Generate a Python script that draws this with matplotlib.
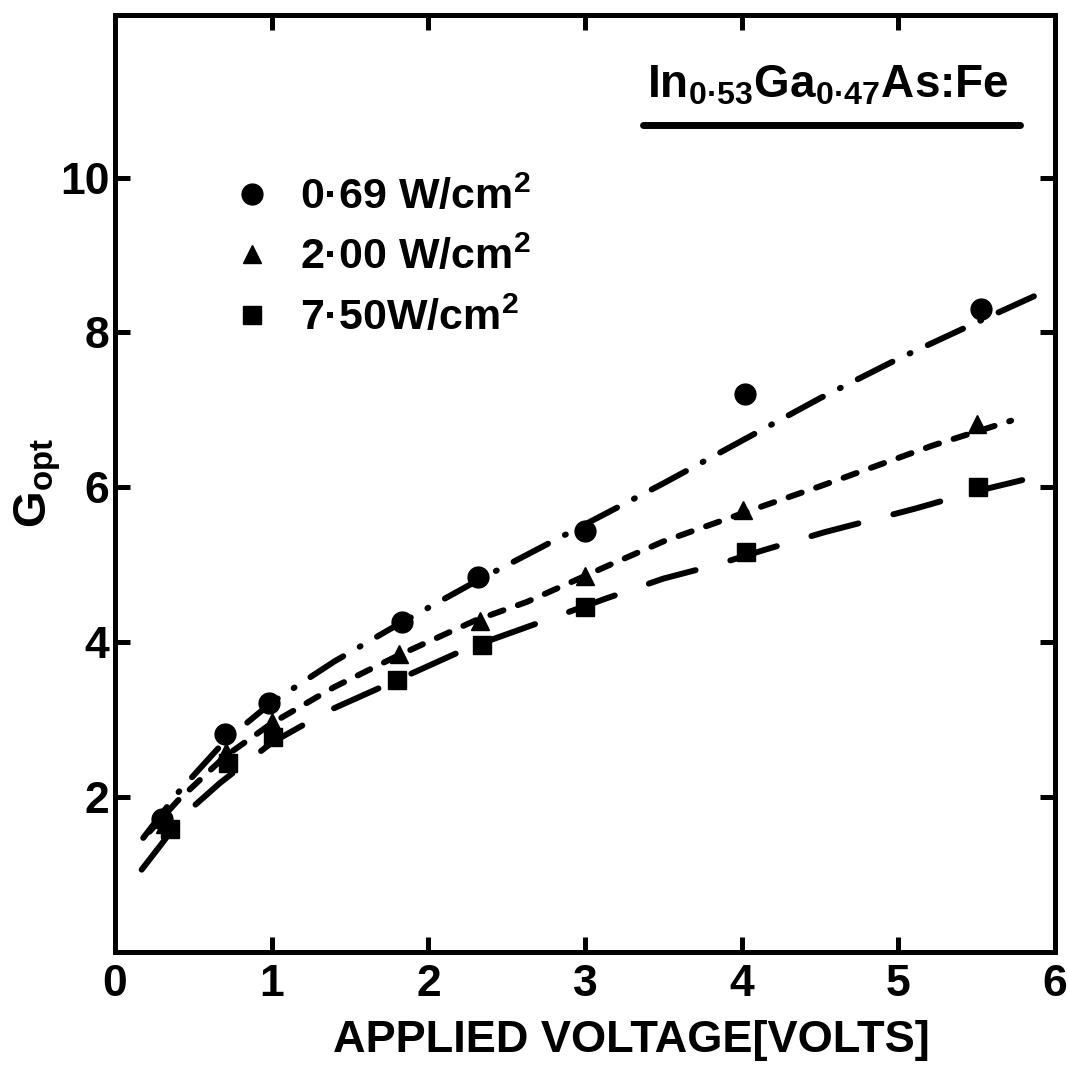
import matplotlib
matplotlib.use('Agg')
import matplotlib.pyplot as plt

plt.rcParams['font.family'] = ['Liberation Sans', 'DejaVu Sans']
plt.rcParams['font.weight'] = 'bold'
plt.rcParams['axes.labelweight'] = 'bold'
plt.rcParams['mathtext.fontset'] = 'custom'
plt.rcParams['mathtext.rm'] = 'Liberation Sans:bold'
plt.rcParams['mathtext.it'] = 'Liberation Sans:bold'
plt.rcParams['mathtext.bf'] = 'Liberation Sans:bold'
plt.rcParams['mathtext.default'] = 'rm'
plt.rcParams['lines.scale_dashes'] = False

# measured points
volts_069 = [0.30, 0.70, 0.98, 1.83, 2.32, 3.00, 4.02, 5.53]
gopt_069 = [1.71, 2.81, 3.21, 4.26, 4.84, 5.44, 7.21, 8.30]
volts_200 = [0.32, 0.71, 1.00, 1.81, 2.33, 3.00, 4.01, 5.50]
gopt_200 = [1.65, 2.58, 2.97, 3.84, 4.27, 4.86, 5.70, 6.82]
volts_750 = [0.35, 0.72, 1.01, 1.80, 2.34, 3.00, 4.03, 5.51]
gopt_750 = [1.58, 2.44, 2.77, 3.51, 3.96, 4.45, 5.16, 6.00]

# fitted curves
fit_v_069 = [0.18, 0.40, 0.70, 1.00, 1.40, 1.80, 2.30, 3.00, 3.50, 4.00, 4.50, 5.00, 5.50, 5.88]
fit_g_069 = [1.47, 2.05, 2.72, 3.22, 3.75, 4.22, 4.78, 5.52, 6.05, 6.60, 7.15, 7.66, 8.13, 8.48]
fit_v_200 = [0.22, 0.40, 0.70, 1.00, 1.40, 1.80, 2.30, 2.63, 3.15, 3.50, 4.14, 4.51, 5.22, 5.72]
fit_g_200 = [1.55, 1.95, 2.52, 2.95, 3.42, 3.82, 4.28, 4.52, 4.99, 5.30, 5.76, 6.02, 6.54, 6.86]
fit_v_750 = [0.17, 0.30, 0.43, 0.67, 1.00, 1.37, 1.79, 2.25, 2.72, 3.13, 3.50, 3.84, 4.16, 4.53, 5.10, 5.50, 5.95]
fit_g_750 = [1.06, 1.40, 1.75, 2.18, 2.70, 3.12, 3.50, 3.92, 4.26, 4.56, 4.82, 5.00, 5.20, 5.42, 5.72, 5.95, 6.17]

labels = ['0·69 W/cm$^2$', '2·00 W/cm$^2$', '7·50W/cm$^2$']

fig = plt.figure(figsize=(10.68, 10.76), dpi=100)
ax = fig.add_axes([0.1077, 0.1155, 0.8801, 0.8705])

lw = 4.3
ax.plot(fit_v_069, fit_g_069, color='black', lw=lw, dashes=(28, 13.7, 0.7, 13.7),
        dash_capstyle='round')
ax.plot(fit_v_200, fit_g_200, color='black', lw=lw, dashes=(10, 11),
        dash_capstyle='round')
ax.plot(fit_v_750, fit_g_750, color='black', lw=lw, dashes=(35, 26),
        dash_capstyle='round')

h1, = ax.plot(volts_069, gopt_069, 'o', ms=15, color='black', label=labels[0])
h2, = ax.plot(volts_200, gopt_200, '^', ms=13.5, color='black', label=labels[1])
h3, = ax.plot(volts_750, gopt_750, 's', ms=12.5, color='black', label=labels[2])

ax.legend(handles=[h1, h2, h3], loc='upper left', bbox_to_anchor=(0.123, 0.8275),
          frameon=False, fontsize=31, handlelength=1, handletextpad=0.6,
          labelspacing=0.44, borderaxespad=0, borderpad=0)

ax.text(0.758, 0.9125, 'In$_{0·53}$Ga$_{0·47}$As:Fe', transform=ax.transAxes,
        ha='center', va='baseline', fontsize=33)
ax.plot([0.562, 0.963], [0.8826, 0.8826], transform=ax.transAxes, color='black',
        lw=5, solid_capstyle='round')

ax.set_xlim(0, 6)
ax.set_ylim(0, 12.1)
ax.set_xticks(range(7))
ax.set_yticks([2, 4, 6, 8, 10])
ax.tick_params(direction='in', length=11, width=3.6, top=True, right=True,
               labelsize=32)
ax.tick_params(axis='x', pad=9)
ax.tick_params(axis='y', pad=4)
for sp in ax.spines.values():
    sp.set_linewidth(3.6)

ax.set_xlabel('APPLIED VOLTAGE[VOLTS]', fontsize=32.5, fontweight='bold')
ax.xaxis.set_label_coords(0.549, -0.073)
ax.set_ylabel('G$_{opt}$', fontsize=34, fontweight='bold', labelpad=-2)

fig.savefig('out.png', dpi=100)
